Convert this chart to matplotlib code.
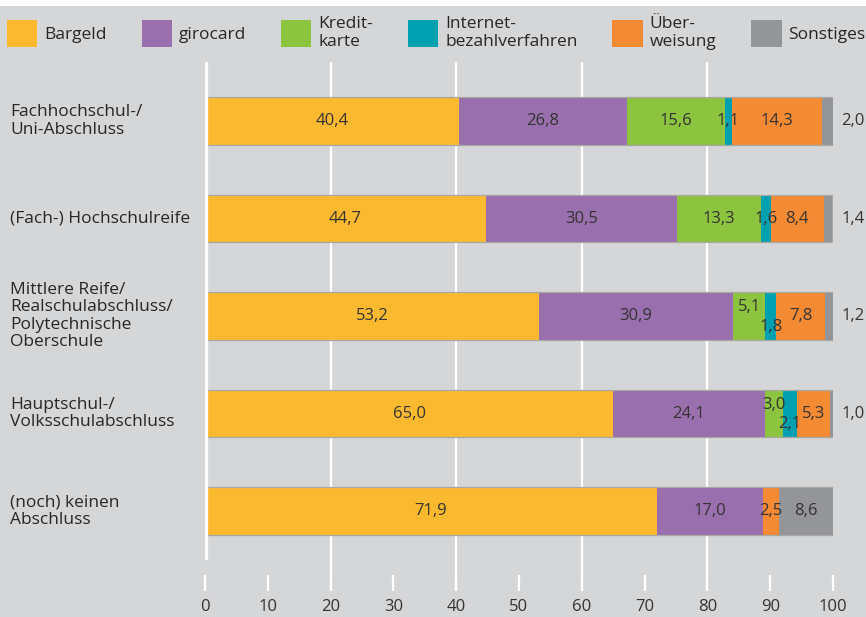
import numpy as np
import matplotlib
matplotlib.use("Agg")
import matplotlib.pyplot as plt
from matplotlib.patches import Patch, Rectangle
from matplotlib.transforms import blended_transform_factory

plt.rcParams['font.family'] = ['Open Sans', 'DejaVu Sans']

# data
categories = ["Fachhochschul-/\nUni-Abschluss",
              "(Fach-) Hochschulreife",
              "Mittlere Reife/\nRealschulabschluss/\nPolytechnische\nOberschule",
              "Hauptschul-/\nVolksschulabschluss",
              "(noch) keinen\nAbschluss"]
series = ["Bargeld", "girocard", "Kredit-\nkarte", "Internet-\nbezahlverfahren",
          "Über-\nweisung", "Sonstiges"]
bargeld = [40.4, 44.7, 53.2, 65.0, 71.9]
girocard = [26.8, 30.5, 30.9, 24.1, 17.0]
kreditkarte = [15.6, 13.3, 5.1, 3.0, 0.0]
internet = [1.1, 1.6, 1.8, 2.1, 0.0]
ueberweisung = [14.3, 8.4, 7.8, 5.3, 2.5]
sonstiges = [2.0, 1.4, 1.2, 1.0, 8.6]
xticks = [0, 10, 20, 30, 40, 50, 60, 70, 80, 90, 100]

colors = ["#fbb92f", "#9a6fae", "#8cc43f", "#00a0b0", "#f48a33", "#949598"]
BG = "#d5d6d8"
TXT = "#333333"

values = np.array([bargeld, girocard, kreditkarte, internet, ueberweisung, sonstiges])

fig = plt.figure(figsize=(8.66, 6.17), dpi=100, facecolor=BG)
# white strip at the very top
fig.patches.append(Rectangle((0, 1 - 6 / 617), 1, 6 / 617, transform=fig.transFigure,
                             facecolor="white", edgecolor="none"))
ax = fig.add_axes([205 / 866, 1 - 591 / 617, 628 / 866, (591 - 62) / 617])
ax.set_facecolor(BG)

y = np.arange(len(categories))
bar_h = 0.49

for gx in [20, 40, 60, 80]:
    ax.axvline(gx, color="white", lw=1.6, zorder=1)
ax.plot([0, 0], [-0.605, 4.5], color="white", lw=4.5, zorder=4, solid_capstyle="butt")

left = np.zeros(len(categories))
for i, vals in enumerate(values):
    ax.barh(y, vals, left=left, height=bar_h, color=colors[i], edgecolor="none", zorder=2)
    left += vals
# thin gray outline around each whole bar
ax.barh(y, left, height=bar_h, facecolor="none", edgecolor="#a8a8a2", lw=0.9, zorder=3)

# vertical label offsets for narrow segments (row, series) -> dy in data units
dy = {(2, 2): -0.09, (2, 3): 0.11, (3, 2): -0.09, (3, 3): 0.11}

left = np.zeros(len(categories))
for i, vals in enumerate(values):
    for r in range(len(categories)):
        v = vals[r]
        if v == 0:
            continue
        lab = f"{v:.1f}".replace(".", ",")
        if i == 5 and v < 5:
            ax.text(101.3, y[r], lab, ha="left", va="center", fontsize=12,
                    color=TXT, clip_on=False, zorder=5)
        else:
            ax.text(left[r] + v / 2, y[r] + dy.get((r, i), 0), lab, ha="center",
                    va="center", fontsize=12, color=TXT, zorder=5)
    left += vals

ax.set_xlim(0, 100)
ax.set_ylim(4.82, -0.605)
ax.set_xticks(xticks)
ax.set_xticklabels([str(t) for t in xticks], fontsize=12, color=TXT)
ax.tick_params(axis="x", direction="in", length=11.5, width=1.6, color="white", pad=6)
ax.set_yticks([])
for s in ax.spines.values():
    s.set_visible(False)

trans = blended_transform_factory(fig.transFigure, ax.transData)
for r, cat in enumerate(categories):
    ax.text(10 / 866, y[r], cat, transform=trans, ha="left", va="center",
            fontsize=12.5, color="#262626", linespacing=1.12)

handles = [Patch(facecolor=c, edgecolor="none") for c in colors]
fig.legend(handles, series, loc="upper left", bbox_to_anchor=(7 / 866, 1 - 16 / 617),
           ncol=6, frameon=False, fontsize=12.5, handlelength=1.75, handleheight=2.0,
           handletextpad=0.4, columnspacing=2.0, borderpad=0, borderaxespad=0,
           labelcolor="#262626")

fig.savefig("out.png", dpi=100, facecolor=BG)
